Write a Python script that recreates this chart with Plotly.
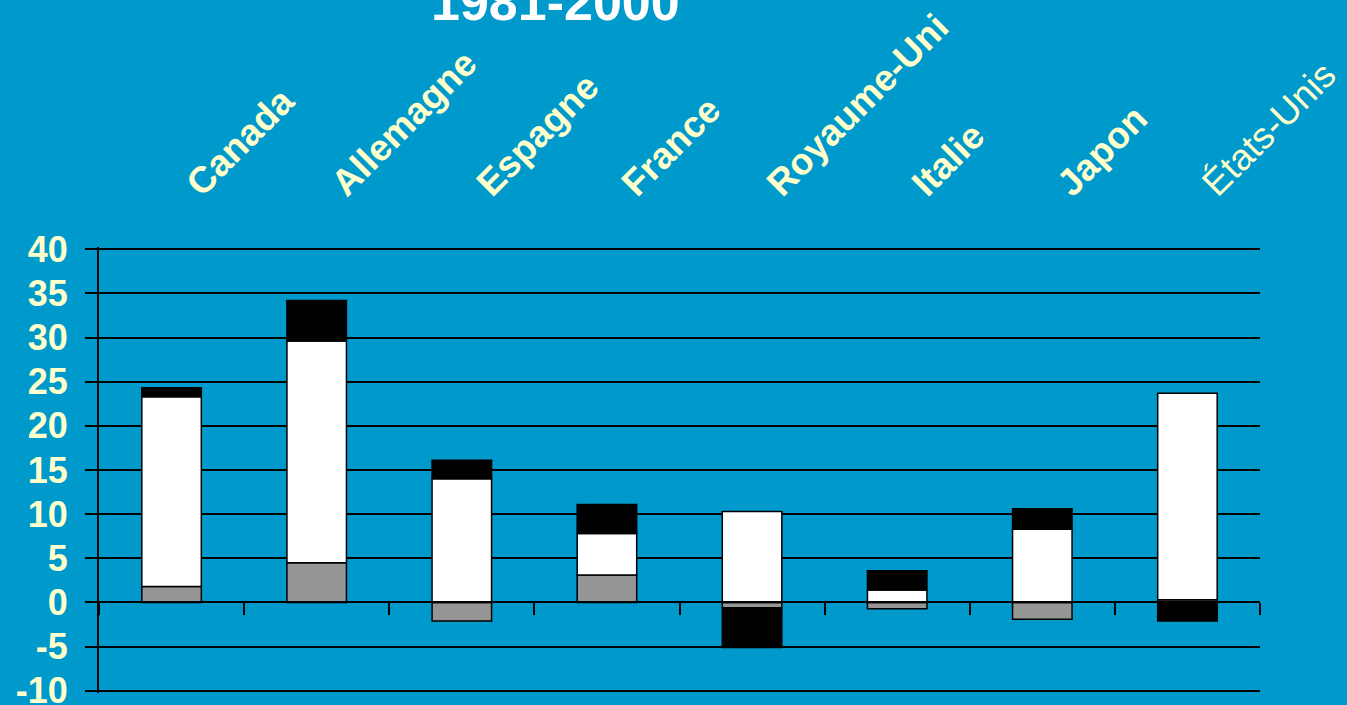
import plotly.graph_objects as go

countries = ["Canada", "Allemagne", "Espagne", "France", "Royaume-Uni", "Italie", "Japon", "États-Unis"]
country_labels = ["<b>Canada</b>", "<b>Allemagne</b>", "<b>Espagne</b>", "<b>France</b>",
                  "<b>Royaume-Uni</b>", "<b>Italie</b>", "<b>Japon</b>", "États-Unis"]
gray_vals = [1.8, 4.5, -2.1, 3.1, -0.6, -0.7, -1.9, 0.3]
white_vals = [21.5, 25.1, 14.0, 4.7, 10.3, 1.4, 8.3, 23.4]
black_vals = [1.0, 4.6, 2.1, 3.3, -4.5, 2.2, 2.3, -2.1]
y_ticks = [-10, -5, 0, 5, 10, 15, 20, 25, 30, 35, 40]
y_ticktext = ["-10", "-5", "0", "5", "10", "15", "20", "25", "30", "35", "40"]
title_text = "1981-2000"

BG = "#0099CC"
YEL = "#FFFFCC"
FONT = "Liberation Sans, Arial, sans-serif"

fig = go.Figure()
for vals, col in [(gray_vals, "#969696"), (white_vals, "#FFFFFF"), (black_vals, "#000000")]:
    fig.add_trace(go.Bar(
        x=countries, y=vals, marker=dict(color=col, line=dict(color="black", width=1.5)),
        width=0.41, showlegend=False, hoverinfo="skip"))

# invisible trace for the baseline axis with ticks at category boundaries
fig.add_trace(go.Scatter(x=countries, y=[0] * len(countries), xaxis="x2", mode="markers",
                         marker=dict(opacity=0), showlegend=False, hoverinfo="skip"))

fig.update_layout(
    barmode="relative",
    width=1347, height=705,
    margin=dict(l=99, r=87, t=247, b=12, autoexpand=False),
    paper_bgcolor=BG, plot_bgcolor=BG,
    xaxis=dict(
        type="category", categoryorder="array", categoryarray=countries,
        tickvals=countries, ticktext=country_labels,
        range=[-0.5, 7.5], side="top", tickangle=-45, automargin=False,
        tickfont=dict(family=FONT, size=37, color=YEL),
        ticks="", showline=False, showgrid=False, zeroline=False,
        ticklabelstandoff=35, ticklabelshift=17,
    ),
    xaxis2=dict(
        type="category", categoryorder="array", categoryarray=countries,
        range=[-0.5, 7.5], overlaying="x", anchor="free", position=(10.25 / 50.5),
        showticklabels=False, ticks="outside", ticklen=12, tickwidth=2, tickcolor="black",
        tickson="boundaries", showline=True, linecolor="black", linewidth=2,
        showgrid=False, zeroline=False, automargin=False,
    ),
    yaxis=dict(
        range=[-10.25, 40.25], tickvals=y_ticks, ticktext=y_ticktext, automargin=False,
        showgrid=True, gridcolor="black", gridwidth=2,
        zeroline=False, showline=True, linecolor="black", linewidth=2,
        ticks="outside", ticklen=12, tickwidth=2, tickcolor="black",
        tickfont=dict(family=FONT, size=36, color=YEL, weight="bold"),
        ticklabelstandoff=10, ticklabeloverflow="allow",
    ),
    annotations=[dict(
        text=title_text, xref="paper", yref="paper", x=0.393, y=1.55,
        xanchor="center", yanchor="middle", showarrow=False,
        font=dict(family=FONT, size=52, color="white", weight="bold"))],
)

fig.write_html(
    "out.html",
    config={"displayModeBar": False},
    post_script="document.body.style.margin='0';document.body.style.overflow='hidden';document.body.style.background='#0099CC';",
)
